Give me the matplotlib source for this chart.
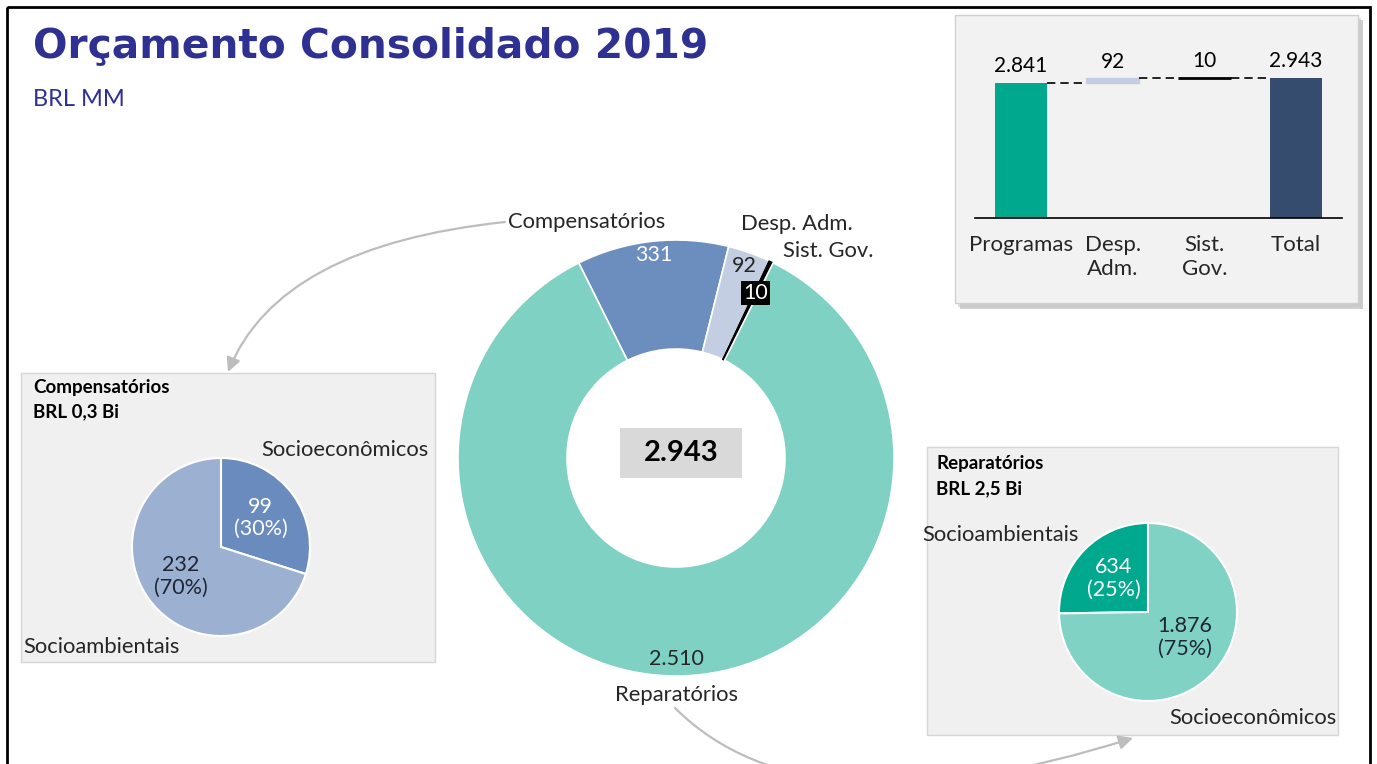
import matplotlib
matplotlib.use("Agg")
import matplotlib.pyplot as plt
from matplotlib.patches import Rectangle, FancyArrowPatch
import numpy as np

W, H = 1377, 764

# ---------------- data ----------------
donut_labels = ["Compensatórios", "Desp. Adm.", "Sist. Gov.", "Reparatórios"]
donut_values = [331, 92, 10, 2510]
donut_total = 2943

comp_labels = ["Socioeconômicos", "Socioambientais"]
comp_values = [99, 232]
comp_pcts = [30, 70]
comp_title = ["Compensatórios", "BRL 0,3 Bi"]

rep_labels = ["Socioambientais", "Socioeconômicos"]
rep_values = [634, 1876]
rep_pcts = [25, 75]
rep_title = ["Reparatórios", "BRL 2,5 Bi"]

wf_categories = ["Programas", "Desp.\nAdm.", "Sist.\nGov.", "Total"]
wf_values = [2841, 92, 10, 2943]

title = "Orçamento Consolidado 2019"
subtitle = "BRL MM"


def fmt(v):
    return f"{v:,}".replace(",", ".")


plt.rcParams['font.family'] = ['Lato', 'DejaVu Sans']
TXT = '#262626'
FS = 15.8

fig = plt.figure(figsize=(W / 100, H / 100), dpi=100)
fig.patch.set_facecolor('white')


def add_ax(x0, y0, x1, y1, **kw):
    return fig.add_axes([x0 / W, 1 - y1 / H, (x1 - x0) / W, (y1 - y0) / H], **kw)


# background layer
bg = add_ax(0, 0, W, H)
bg.set_xlim(0, W)
bg.set_ylim(H, 0)
bg.axis('off')

# waterfall box with shadow
bg.add_patch(Rectangle((960, 20), 403, 289, fc='#A8A8A8', ec='none', alpha=0.55))
bg.add_patch(Rectangle((958, 18), 403, 289, fc='#C8C8C8', ec='none', alpha=0.6))
bg.add_patch(Rectangle((955, 15), 403, 288, fc='#F2F2F2', ec='#D0D0D0', lw=1))
# sub panels
bg.add_patch(Rectangle((21, 373), 414, 289, fc='#F0F0F0', ec='#D6D6D6', lw=1))
bg.add_patch(Rectangle((927, 447), 411, 288, fc='#F0F0F0', ec='#D6D6D6', lw=1))

# ---------------- donut ----------------
cx, cy, R = 676, 458, 218
axd = add_ax(cx - R, cy - R, cx + R, cy + R)
donut_colors = ['#6C8EBF', '#C3CEE2', '#000000', '#7FD1C3']
wedges, _ = axd.pie(donut_values, radius=1, startangle=116.5, counterclock=False,
                    colors=donut_colors,
                    wedgeprops=dict(width=0.5, edgecolor='white', linewidth=1.2))
wedges[2].set_edgecolor('black')
wedges[2].set_linewidth(0.8)
axd.set_xlim(-1, 1)
axd.set_ylim(-1, 1)
axd.set_aspect('equal')
axd.axis('off')

lab_r = [0.935, 0.935, 0.84, 0.92]
lab_c = ['white', TXT, 'white', TXT]
for w, v, r, c in zip(wedges, donut_values, lab_r, lab_c):
    a = np.deg2rad((w.theta1 + w.theta2) / 2)
    kw = {}
    if c == 'white' and v == donut_values[2]:
        kw = dict(bbox=dict(boxstyle='square,pad=0.1', fc='black', ec='none'))
    axd.text(r * np.cos(a), r * np.sin(a), fmt(v), ha='center', va='center',
             color=c, fontsize=15.5, **kw)

out_pos = [(-0.408, 1.083), (0.555, 1.073), (0.70, 0.95), (0.0, -1.087)]
for (x, y), lab in zip(out_pos, donut_labels):
    axd.text(x, y, lab, ha='center', va='center', color=TXT, fontsize=FS, clip_on=False)

axd.add_patch(Rectangle((-0.257, -0.092), 0.56, 0.23, fc='#D9D9D9', ec='none'))
axd.text(0.023, 0.023, fmt(donut_total), ha='center', va='center', fontsize=21,
         fontweight='bold', color='black')

# ---------------- Compensatórios pie ----------------
pr = 89
axl = add_ax(221 - pr, 547 - pr, 221 + pr, 547 + pr)
wl, _ = axl.pie(comp_values, radius=1, startangle=90, counterclock=False,
                colors=['#6A8BBE', '#9CB0D1'],
                wedgeprops=dict(edgecolor='white', linewidth=1.5))
axl.set_xlim(-1, 1); axl.set_ylim(-1, 1); axl.set_aspect('equal'); axl.axis('off')
for w, v, p, c, r in zip(wl, comp_values, comp_pcts, ['white', '#1F2533'], [0.55, 0.56]):
    a = np.deg2rad((w.theta1 + w.theta2) / 2)
    axl.text(r * np.cos(a), r * np.sin(a), f"{fmt(v)}\n({p}%)", ha='center', va='center',
             color=c, fontsize=15.5, linespacing=1.15)

# ---------------- Reparatórios pie ----------------
axr = add_ax(1148 - pr, 612 - pr, 1148 + pr, 612 + pr)
wr, _ = axr.pie(rep_values, radius=1, startangle=90, counterclock=True,
                colors=['#00A88E', '#80D2C4'],
                wedgeprops=dict(edgecolor='white', linewidth=1.5))
axr.set_xlim(-1, 1); axr.set_ylim(-1, 1); axr.set_aspect('equal'); axr.axis('off')
for w, v, p, c, r, da in zip(wr, rep_values, rep_pcts, ['white', '#1F2533'], [0.54, 0.5], [0, 10]):
    a = np.deg2rad((w.theta1 + w.theta2) / 2 + da)
    axr.text(r * np.cos(a), r * np.sin(a), f"{fmt(v)}\n({p}%)", ha='center', va='center',
             color=c, fontsize=15.5, linespacing=1.15)

# ---------------- waterfall ----------------
base_px, top_px = 218, 40
scale_px = 140.0  # pixels for total
axw = add_ax(975, top_px, 1342, base_px)
ymax = wf_values[-1] * (base_px - top_px) / scale_px
bottoms = [0, wf_values[0], wf_values[0] + wf_values[1], 0]
wf_colors = ['#00A88E', '#C3CEE2', '#000000', '#364C6E']
xs = np.arange(len(wf_values))
bw = 0.57
bars = axw.bar(xs, wf_values, bottom=bottoms, width=bw, color=wf_colors)
bars[2].set_edgecolor('black')
bars[2].set_linewidth(2.0)
bars[1].set_edgecolor('#C3CEE2')
bars[1].set_linewidth(1.0)
for i in range(len(wf_values) - 1):
    lvl = bottoms[i] + wf_values[i]
    axw.plot([xs[i] + bw / 2, xs[i + 1] - bw / 2], [lvl, lvl], color='black',
             lw=1.2, ls=(0, (5, 3)))
for i, v in enumerate(wf_values):
    axw.annotate(fmt(v), (xs[i], bottoms[i] + wf_values[i]), xytext=(0, 5),
                 textcoords='offset points', ha='center', va='bottom',
                 fontsize=15, color='black')
axw.set_xlim(-0.5, 3.5)
axw.set_ylim(0, ymax)
axw.set_facecolor('none')
for s in ['top', 'right', 'left']:
    axw.spines[s].set_visible(False)
axw.spines['bottom'].set_linewidth(1.2)
axw.set_yticks([])
axw.set_xticks(xs)
axw.set_xticklabels(wf_categories, fontsize=16, color=TXT, linespacing=1.25)
axw.tick_params(axis='x', length=0, pad=12)

# ---------------- foreground: texts, arrows, frame ----------------
fg = add_ax(0, 0, W, H)
fg.set_xlim(0, W)
fg.set_ylim(H, 0)
fg.axis('off')
fg.patch.set_alpha(0)

fg.text(33, 46, title, fontfamily='DejaVu Sans', fontweight='bold', fontsize=29.3,
        color='#2E3192', ha='left', va='center')
fg.text(33, 100, subtitle, fontsize=17, color='#2E3192', ha='left', va='center')

fg.text(33, 387, comp_title[0], fontsize=13.5, fontweight='bold', color='black', va='center')
fg.text(33, 412, comp_title[1], fontsize=13.5, fontweight='bold', color='black', va='center')
fg.text(936, 463, rep_title[0], fontsize=13.5, fontweight='bold', color='black', va='center')
fg.text(936, 489, rep_title[1], fontsize=13.5, fontweight='bold', color='black', va='center')

fg.text(345, 450, comp_labels[0], fontsize=FS, color=TXT, ha='center', va='center')
fg.text(23, 647, comp_labels[1], fontsize=FS, color=TXT, ha='left', va='center')
fg.text(1000, 535, rep_labels[0], fontsize=FS, color=TXT, ha='center', va='center')
fg.text(1253, 718, rep_labels[1], fontsize=FS, color=TXT, ha='center', va='center')

arrow_kw = dict(arrowstyle='-|>,head_length=0.6,head_width=0.3', color='#BDBDBD',
                lw=1.6, shrinkA=0, shrinkB=0, mutation_scale=14)
fg.add_patch(FancyArrowPatch((505, 222), (228, 372),
                             connectionstyle='angle3,angleA=6,angleB=68', **arrow_kw))
fg.add_patch(FancyArrowPatch((675, 708), (1133, 738),
                             connectionstyle='angle3,angleA=-45,angleB=17.5',
                             clip_on=False, **arrow_kw))

fg.add_patch(Rectangle((7, 7), 1363, 800, fc='none', ec='black', lw=2, clip_on=False))

fig.savefig('out.png', dpi=100)
